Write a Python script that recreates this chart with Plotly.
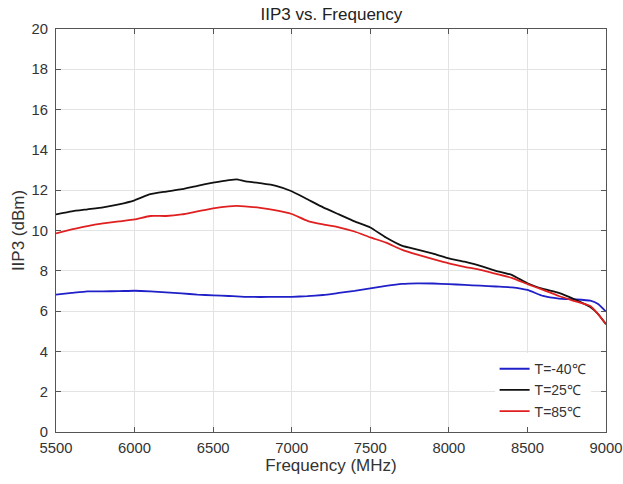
import plotly.graph_objects as go

freq = [5500, 5600, 5700, 5800, 5900, 6000, 6100, 6200, 6300, 6400, 6500, 6600, 6650,
        6700, 6800, 6900, 7000, 7100, 7200, 7300, 7400, 7500, 7600, 7700, 7800, 7900,
        8000, 8100, 8200, 8300, 8400, 8500, 8600, 8700, 8800, 8900, 8950, 9000]

t_m40 = [6.82, 6.90, 6.98, 6.98, 6.99, 7.01, 6.98, 6.93, 6.88, 6.82, 6.78, 6.75, 6.73,
         6.71, 6.70, 6.71, 6.71, 6.74, 6.80, 6.90, 7.00, 7.13, 7.25, 7.35, 7.38, 7.37,
         7.34, 7.30, 7.26, 7.22, 7.18, 7.05, 6.75, 6.62, 6.58, 6.52, 6.35, 5.97]

t_25 = [10.80, 10.95, 11.05, 11.15, 11.30, 11.50, 11.80, 11.93, 12.05, 12.22, 12.37, 12.50, 12.54,
        12.45, 12.35, 12.22, 11.95, 11.55, 11.15, 10.80, 10.45, 10.15, 9.65, 9.25, 9.05, 8.85,
        8.62, 8.45, 8.25, 8.00, 7.80, 7.38, 7.10, 6.90, 6.58, 6.20, 5.85, 5.35]

t_85 = [9.86, 10.05, 10.22, 10.35, 10.45, 10.55, 10.72, 10.72, 10.80, 10.95, 11.10, 11.20, 11.22,
        11.20, 11.12, 11.00, 10.82, 10.48, 10.30, 10.16, 9.95, 9.66, 9.40, 9.05, 8.80, 8.58,
        8.37, 8.20, 8.05, 7.85, 7.65, 7.34, 7.05, 6.75, 6.50, 6.25, 5.85, 5.35]

series_names = ["T=-40℃", "T=25℃", "T=85℃"]
series_colors = ["#2020c8", "#111111", "#e02020"]

x_ticks = [5500, 6000, 6500, 7000, 7500, 8000, 8500, 9000]
y_ticks = [0, 2, 4, 6, 8, 10, 12, 14, 16, 18, 20]

FONT = "Arial, Liberation Sans"

fig = go.Figure()
for name, ys, col in zip(series_names, [t_m40, t_25, t_85], series_colors):
    fig.add_trace(go.Scatter(x=freq, y=ys, mode="lines", name=name,
                             line=dict(color=col, width=1.8, shape="spline", smoothing=0.4)))

axis_common = dict(showgrid=True, gridcolor="#e3e3e3", gridwidth=1,
                   showline=True, linecolor="#555555", linewidth=1, mirror="ticks",
                   ticks="inside", ticklen=5, tickcolor="#555555",
                   tickfont=dict(family=FONT, size=14.8, color="#333333"),
                   zeroline=False, automargin=False)

fig.update_xaxes(range=[5500, 9000], tickvals=x_ticks, ticklabelstandoff=2,
                 title=dict(text="Frequency (MHz)", font=dict(family=FONT, size=17, color="#333333"),
                            standoff=4),
                 **axis_common)
fig.update_yaxes(range=[0, 20], tickvals=y_ticks, ticklabelstandoff=4,
                 title=dict(text="IIP3 (dBm)", font=dict(family=FONT, size=17, color="#333333"),
                            standoff=2),
                 **axis_common)

fig.update_layout(
    width=623, height=484,
    margin=dict(l=56, r=17, t=29, b=52),
    paper_bgcolor="white", plot_bgcolor="white",
    title=dict(text="IIP3 vs. Frequency", x=0.532, xanchor="center", y=0.972, yanchor="middle",
               font=dict(family=FONT, size=17, color="#222222")),
    legend=dict(x=0.972, y=0.012, xanchor="right", yanchor="bottom",
                bgcolor="white", bordercolor="#ffffff", borderwidth=0,
                font=dict(family=FONT, size=14, color="#333333"),
                tracegroupgap=0, itemwidth=30),
    showlegend=True,
)

fig.write_html("out.html")
